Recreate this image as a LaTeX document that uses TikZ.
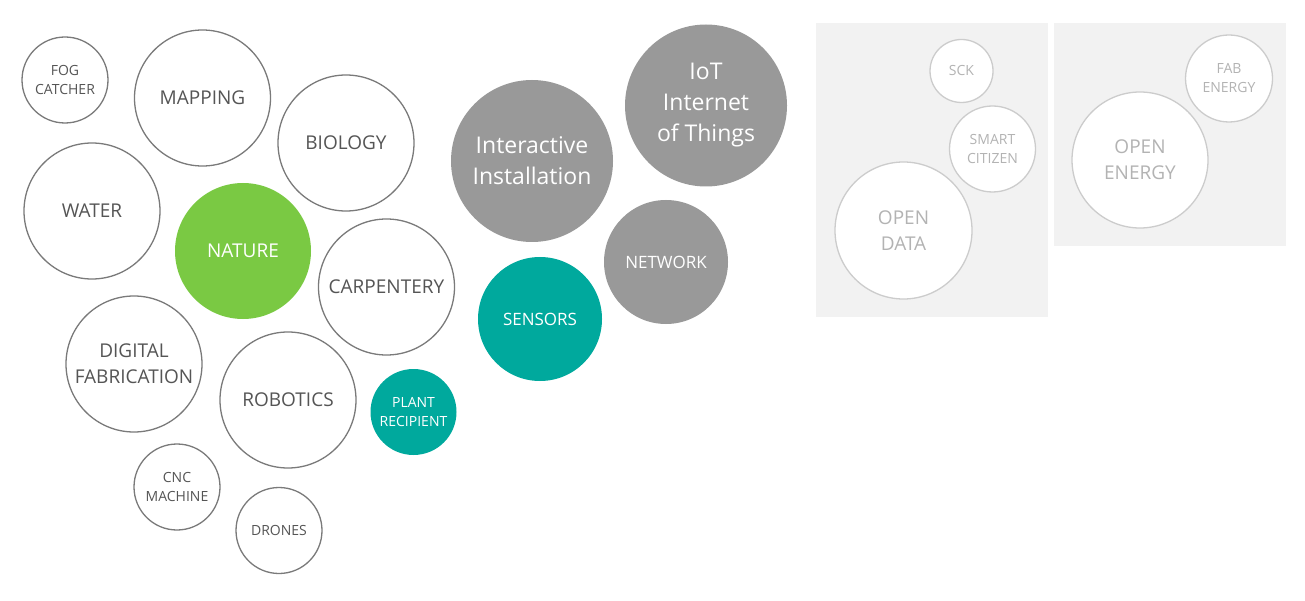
\documentclass[tikz,border=0pt]{standalone}
\usepackage{fontspec}
\setmainfont{Open Sans}
\usepackage{xcolor}
\definecolor{ringgray}{HTML}{7A7A7A}
\definecolor{txtgray}{HTML}{555555}
\definecolor{natgreen}{HTML}{7AC943}
\definecolor{senteal}{HTML}{00A99D}
\definecolor{iotgray}{HTML}{999999}
\definecolor{panelgray}{HTML}{F2F2F2}
\definecolor{paleline}{HTML}{CCCCCC}
\definecolor{paletxt}{HTML}{B3B3B3}

\begin{document}
\begin{tikzpicture}[
  x=1pt, y=-1pt,
  bub/.style={circle, draw=ringgray, line width=1.3pt, fill=white,
              inner sep=0pt, align=center, text=txtgray},
  fsmall/.style={font=\fontsize{14}{19}\selectfont},
  fmid/.style={font=\fontsize{19}{26}\selectfont},
  fbig/.style={font=\fontsize{23}{31}\selectfont},
  bubsmall/.style={bub, fsmall, minimum size=86pt},
  bubmid/.style={bub, fmid, minimum size=136pt},
  bubgreen/.style={bubmid, draw=none, fill=natgreen, text=white},
  bubteal/.style={bub, draw=none, fill=senteal, text=white},
  bubdark/.style={bub, draw=none, fill=iotgray, text=white},
  bubpale/.style={bub, draw=paleline, text=paletxt},
  panel/.style={fill=panelgray, draw=none},
]
\useasboundingbox (0,0) rectangle (1305,601);

% outlined bubbles (left cluster)
\node[bubsmall] (fog) at (65, 80) {FOG\\CATCHER};
\node[bubmid] (mapping) at (202.5, 98) {MAPPING};
\node[bubmid] (water) at (92, 211) {WATER};
\node[bubmid] (biology) at (346, 143) {BIOLOGY};
\node[bubgreen] (nature) at (243, 251) {NATURE};
\node[bubmid] (carpentery) at (386.5, 287) {CARPENTERY};
\node[bubmid] (digfab) at (134, 364) {DIGITAL\\FABRICATION};
\node[bubmid] (robotics) at (288, 400) {ROBOTICS};
\node[bubsmall] (cnc) at (177, 487) {CNC\\MACHINE};
\node[bubsmall] (drones) at (279, 530.5) {DRONES};

% filled bubbles
\node[bubteal, fsmall, minimum size=86pt] (plant) at (413.5, 412) {PLANT\\RECIPIENT};
\node[bubteal, font=\fontsize{17}{23}\selectfont, minimum size=124pt] (sensors) at (540, 319) {SENSORS};
\node[bubdark, fbig, minimum size=162pt] (interactive) at (532, 161) {Interactive\\Installation};
\node[bubdark, fbig, minimum size=162pt] (iot) at (706, 105.5) {IoT\\Internet\\of Things};
\node[bubdark, font=\fontsize{17}{23}\selectfont, minimum size=124pt] (network) at (666, 262) {NETWORK};

% panels
\fill[panel] (816,23) rectangle (1048,317);
\fill[panel] (1054,23) rectangle (1286,246);

\node[bubpale, fsmall, minimum size=63pt] (sck) at (961.5, 71) {SCK};
\node[bubpale, fsmall, minimum size=86pt] (smart) at (992.5, 149) {SMART\\CITIZEN};
\node[bubpale, fmid, minimum size=137pt] (opendata) at (903.5, 230.5) {OPEN\\DATA};
\node[bubpale, fsmall, minimum size=87pt] (fabenergy) at (1229, 78.5) {FAB\\ENERGY};
\node[bubpale, fmid, minimum size=136pt] (openenergy) at (1140, 160) {OPEN\\ENERGY};
\end{tikzpicture}
\end{document}
